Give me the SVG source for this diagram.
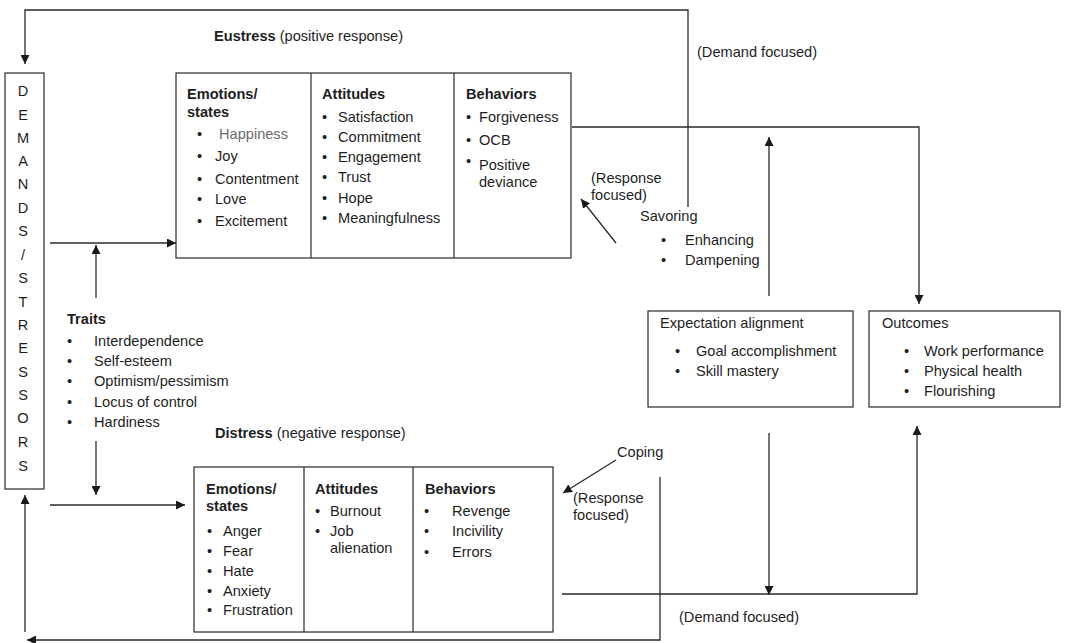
<svg xmlns="http://www.w3.org/2000/svg" width="1067" height="643" viewBox="0 0 1067 643">
<defs>
<marker id="ah" viewBox="0 0 10 10" refX="10" refY="5" markerWidth="9" markerHeight="9" markerUnits="userSpaceOnUse" orient="auto">
<path d="M0,0 L10,5 L0,10 z" fill="#1a1a1a"/>
</marker>
<style>
text{font-family:"Liberation Sans",Arial,sans-serif;font-size:14.6px;fill:#1e1e1e}
.b{font-weight:bold}
.g{fill:#6a6a6a}
.box{fill:#fff;stroke:#3a3a3a;stroke-width:1.3}
.div{stroke:#3a3a3a;stroke-width:1.3}
.ln{fill:none;stroke:#2a2a2a;stroke-width:1.3}
.ar{fill:none;stroke:#2a2a2a;stroke-width:1.3;marker-end:url(#ah)}
</style>
</defs>
<rect width="1067" height="643" fill="#fff"/>

<g id="connectors">
<!-- top feedback: from savoring up, left, down to demands -->
<polyline class="ar" points="688,207 688,10 25,10 25,64"/>
<!-- demands to eustress -->
<line class="ar" x1="50" y1="243" x2="176" y2="243"/>
<!-- traits up -->
<line class="ar" x1="96" y1="298" x2="96" y2="245"/>
<!-- traits down -->
<line class="ar" x1="96" y1="441" x2="96" y2="495"/>
<!-- demands to distress -->
<line class="ar" x1="50" y1="505" x2="185" y2="505"/>
<!-- eustress to outcomes -->
<polyline class="ar" points="572,127 919,127 919,304"/>
<!-- response focused arrow (savoring) -->
<line class="ar" x1="616" y1="243" x2="581" y2="199"/>
<!-- expectation up -->
<line class="ar" x1="769" y1="296" x2="769" y2="137"/>
<!-- expectation down -->
<line class="ar" x1="769" y1="433" x2="769" y2="595"/>
<!-- distress to outcomes -->
<polyline class="ar" points="562,594 917,594 917,426"/>
<!-- coping arrow -->
<line class="ar" x1="616" y1="460" x2="563" y2="493"/>
<!-- coping return -->
<polyline class="ar" points="660,477 660,640 27,640"/>
<!-- up to demands -->
<line class="ar" x1="25" y1="632" x2="25" y2="495"/>
</g>

<g id="demands">
<rect class="box" x="5" y="73" width="39" height="416"/>
<g text-anchor="middle">
<text x="23" y="96">D</text>
<text x="23" y="120">E</text>
<text x="23" y="143">M</text>
<text x="23" y="166">A</text>
<text x="23" y="189">N</text>
<text x="23" y="213">D</text>
<text x="23" y="236">S</text>
<text x="23" y="260">/</text>
<text x="23" y="283">S</text>
<text x="23" y="307">T</text>
<text x="23" y="330">R</text>
<text x="23" y="353">E</text>
<text x="23" y="377">S</text>
<text x="23" y="400">S</text>
<text x="23" y="423">O</text>
<text x="23" y="447">R</text>
<text x="23" y="471">S</text>
</g>
</g>

<g id="eustress-label">
<text x="214" y="41"><tspan class="b">Eustress</tspan> (positive response)</text>
</g>

<g id="eustress">
<rect class="box" x="176" y="73" width="395" height="185"/>
<line class="div" x1="311" y1="73" x2="311" y2="258"/>
<line class="div" x1="454" y1="73" x2="454" y2="258"/>
<text class="b" x="187" y="99">Emotions/</text>
<text class="b" x="187" y="117">states</text>
<text x="197" y="139">•</text><text class="g" x="219" y="139">Happiness</text>
<text x="197" y="161">•</text><text x="215" y="161">Joy</text>
<text x="197" y="184">•</text><text x="215" y="184">Contentment</text>
<text x="197" y="204">•</text><text x="215" y="204">Love</text>
<text x="197" y="226">•</text><text x="215" y="226">Excitement</text>
<text class="b" x="322" y="99">Attitudes</text>
<text x="322" y="122">•</text><text x="338" y="122">Satisfaction</text>
<text x="322" y="142">•</text><text x="338" y="142">Commitment</text>
<text x="322" y="162">•</text><text x="338" y="162">Engagement</text>
<text x="322" y="182">•</text><text x="338" y="182">Trust</text>
<text x="322" y="203">•</text><text x="338" y="203">Hope</text>
<text x="322" y="223">•</text><text x="338" y="223">Meaningfulness</text>
<text class="b" x="466" y="99">Behaviors</text>
<text x="466" y="122">•</text><text x="479" y="122">Forgiveness</text>
<text x="466" y="145">•</text><text x="479" y="145">OCB</text>
<text x="466" y="166">•</text><text x="479" y="170">Positive</text>
<text x="479" y="187">deviance</text>
</g>

<g id="savoring">
<text x="697" y="57">(Demand focused)</text>
<text x="591" y="183">(Response</text>
<text x="591" y="200">focused)</text>
<text x="640" y="221">Savoring</text>
<text x="661" y="245">•</text><text x="685" y="245">Enhancing</text>
<text x="661" y="265">•</text><text x="685" y="265">Dampening</text>
</g>

<g id="traits">
<text class="b" x="67" y="324">Traits</text>
<text x="67" y="346">•</text><text x="94" y="346">Interdependence</text>
<text x="67" y="366">•</text><text x="94" y="366">Self-esteem</text>
<text x="67" y="386">•</text><text x="94" y="386">Optimism/pessimism</text>
<text x="67" y="407">•</text><text x="94" y="407">Locus of control</text>
<text x="67" y="427">•</text><text x="94" y="427">Hardiness</text>
</g>

<g id="expectation">
<rect class="box" x="648" y="311" width="205" height="96"/>
<text x="660" y="328">Expectation alignment</text>
<text x="675" y="356">•</text><text x="696" y="356">Goal accomplishment</text>
<text x="675" y="376">•</text><text x="696" y="376">Skill mastery</text>
</g>

<g id="outcomes">
<rect class="box" x="869" y="311" width="191" height="96"/>
<text x="882" y="328">Outcomes</text>
<text x="904" y="356">•</text><text x="924" y="356">Work performance</text>
<text x="904" y="376">•</text><text x="924" y="376">Physical health</text>
<text x="904" y="396">•</text><text x="924" y="396">Flourishing</text>
</g>

<g id="distress-label">
<text x="215" y="438"><tspan class="b">Distress</tspan> (negative response)</text>
</g>

<g id="distress">
<rect class="box" x="194" y="467" width="359" height="165"/>
<line class="div" x1="304" y1="467" x2="304" y2="632"/>
<line class="div" x1="413" y1="467" x2="413" y2="632"/>
<text class="b" x="206" y="494">Emotions/</text>
<text class="b" x="206" y="511">states</text>
<text x="207" y="536">•</text><text x="223" y="536">Anger</text>
<text x="207" y="556">•</text><text x="223" y="556">Fear</text>
<text x="207" y="576">•</text><text x="223" y="576">Hate</text>
<text x="207" y="596">•</text><text x="223" y="596">Anxiety</text>
<text x="207" y="615">•</text><text x="223" y="615">Frustration</text>
<text class="b" x="315" y="494">Attitudes</text>
<text x="315" y="516">•</text><text x="330" y="516">Burnout</text>
<text x="315" y="536">•</text><text x="330" y="536">Job</text>
<text x="330" y="553">alienation</text>
<text class="b" x="425" y="494">Behaviors</text>
<text x="424" y="516">•</text><text x="452" y="516">Revenge</text>
<text x="424" y="536">•</text><text x="452" y="536">Incivility</text>
<text x="424" y="557">•</text><text x="452" y="557">Errors</text>
</g>

<g id="coping">
<text x="617" y="457">Coping</text>
<text x="573" y="503">(Response</text>
<text x="573" y="520">focused)</text>
<text x="679" y="622">(Demand focused)</text>
</g>
</svg>
